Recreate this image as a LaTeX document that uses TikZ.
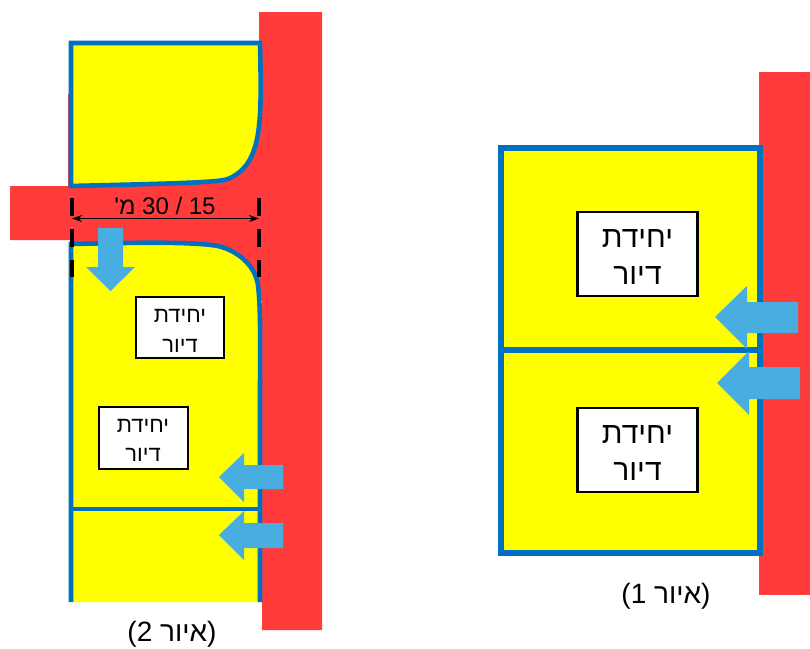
\documentclass[tikz,border=0pt]{standalone}
\usepackage{fontspec}
\setmainfont{Liberation Sans}
\newfontfamily\plainfont{Liberation Sans}
\newfontfamily\hebfont[Script=Hebrew]{Liberation Sans}
\TeXXeTstate=1
\usetikzlibrary{arrows.meta}
\definecolor{roadred}{HTML}{FF3B3B}
\definecolor{plotyellow}{HTML}{FFFF00}
\definecolor{edgeblue}{HTML}{0070C0}
\definecolor{arrowblue}{HTML}{47AEDF}
\newcommand{\hebword}[1]{{\hebfont\beginR #1\endR}}
\newcommand{\unitlines}[1]{\raisebox{-#1}[\height][\depth]{\hebword{יחידת}}\\\raisebox{-#1}[\height][\depth]{\hebword{דיור}}}
\tikzset{
  road/.style={fill=roadred,draw=none},
  plot/.style={fill=plotyellow,draw=none},
  edgeline/.style={draw=edgeblue,line width=4.6pt,line join=miter},
  accessarrow/.style={fill=arrowblue,draw=none},
  bigunit/.style={draw=black,fill=white,line width=2.6pt,minimum width=120pt,minimum height=84pt,inner sep=0pt,align=center,font=\fontsize{30}{37}\selectfont},
  smallunit/.style={draw=black,fill=white,line width=2pt,inner sep=0pt,align=center,font=\fontsize{22}{29.5}\selectfont},
  caption/.style={inner sep=0pt,font=\fontsize{28}{30}\selectfont},
  sideline/.style={draw=black,line width=4pt,dash pattern=on 18pt off 13pt}
}
\begin{document}
\begin{tikzpicture}[x=1pt,y=-1pt]
\useasboundingbox (0,0) rectangle (810,648);
% --- figure 2: roads
\fill[road] (259,12) -- (322,12) -- (322,630) -- (262,630) -- (262,300) -- (259,300) -- cycle;
\fill[road] (68,94) -- (72,94) -- (72,186) -- (68,186) -- cycle;
\fill[road] (10,186) -- (71,186) -- (220,170) -- (259,120) -- (262,280) -- (70,250) -- (70,240) -- (10,240) -- cycle;
% --- figure 2: upper plot
\path[plot,edgeline] (71,43) -- (260,43) .. controls (261,90) and (262,128) .. (254,150)
  .. controls (249,165) and (240,174) .. (228,179)
  .. controls (218,183) and (150,184) .. (71,186) -- cycle;
% --- figure 2: lower plot
\fill[plot] (71,244) .. controls (120,243) and (190,241) .. (218,246)
  .. controls (238,251) and (255,265) .. (258,285)
  .. controls (261,310) and (260,350) .. (260,400) -- (260,602) -- (71,602) -- cycle;
\draw[edgeline,line cap=butt] (71,602) -- (71,244) .. controls (120,243) and (190,241) .. (218,246)
  .. controls (238,251) and (255,265) .. (258,285)
  .. controls (261,310) and (260,350) .. (260,400) -- (260,602);
\coordinate (dividerL) at (71,509);
\coordinate (dividerR) at (260,509);
\draw[edgeline] (dividerL) -- (dividerR);
% --- figure 2: width dimension
\coordinate (dimL) at (72,218.5);
\coordinate (dimR) at (259,218.5);
\coordinate (tickLtop) at (72,198);
\coordinate (tickLbot) at (72,277);
\coordinate (tickRtop) at (259,198);
\coordinate (tickRbot) at (259,277);
\draw[sideline] (tickLtop) -- (tickLbot);
\draw[sideline] (tickRtop) -- (tickRbot);
\draw[{Stealth[length=10pt,width=7pt]}-{Stealth[length=10pt,width=7pt]},line width=1.3pt,black] (dimL) -- (dimR);
\node[inner sep=0pt,font=\fontsize{24}{26}\selectfont] (dimtext) at (165,206) {{\plainfont'}\hebword{מ} 30 / 15};
% --- figure 2: access arrows
\fill[accessarrow] (98,228) -- (123,228) -- (123,267) -- (135,267) -- (110.5,291) -- (86,267) -- (98,267) -- cycle;
\fill[accessarrow] (283,465) -- (244,465) -- (244,453) -- (219,477) -- (244,502) -- (244,489) -- (283,489) -- cycle;
\fill[accessarrow] (283,523) -- (244,523) -- (244,511) -- (219,535) -- (244,560) -- (244,548) -- (283,548) -- cycle;
% --- figure 2: units
\node[smallunit,minimum width=88pt,minimum height=61pt] (unitA) at (180,327.5) {\unitlines{3.5pt}};
\node[smallunit,minimum width=89pt,minimum height=62pt] (unitB) at (143,437.5) {\unitlines{3pt}};
\node[caption] (captionB) at (172,634) {(2 \hebword{איור})};
% --- figure 1
\fill[road] (759,72) rectangle (810,595);
\path[plot,edgeline,line width=6.6pt] (501,148) rectangle (760,553);
\coordinate (midL) at (501,350);
\coordinate (midR) at (760,350);
\draw[edgeline,line width=6.6pt] (midL) -- (midR);
\node[bigunit] (unitC) at (637.5,254) {\unitlines{3pt}};
\node[bigunit] (unitD) at (637.5,450) {\unitlines{3pt}};
\fill[accessarrow] (798,302) -- (747,302) -- (747,286) -- (715,317) -- (747,349) -- (747,333) -- (798,333) -- cycle;
\fill[accessarrow] (800,367) -- (749,367) -- (749,351) -- (717,383) -- (749,415) -- (749,399) -- (800,399) -- cycle;
\node[caption] (captionA) at (666,596) {(1 \hebword{איור})};
\end{tikzpicture}
\end{document}
